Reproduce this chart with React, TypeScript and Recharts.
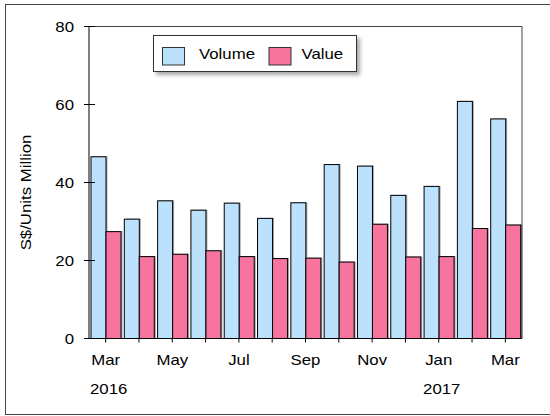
import React from 'react';
import { BarChart, Bar, XAxis, YAxis, CartesianGrid, Legend } from 'recharts';

const months = ['Mar', 'Apr', 'May', 'Jun', 'Jul', 'Aug', 'Sep', 'Oct', 'Nov', 'Dec', 'Jan', 'Feb', 'Mar'];
const years = ['2016', '', '', '', '', '', '', '', '', '', '2017', '', ''];
const volume = [46.6, 30.6, 35.3, 32.9, 34.7, 30.8, 34.8, 44.6, 44.2, 36.7, 39.0, 60.8, 56.3];
const value = [27.4, 21.0, 21.6, 22.5, 21.0, 20.5, 20.6, 19.6, 29.3, 20.9, 21.0, 28.2, 29.1];
const seriesNames = ['Volume', 'Value'];
const yTicks = [0, 20, 40, 60, 80];
const yLabel = 'S$/Units Million';

const data = months.map((m, i) => ({ key: i, month: m, year: years[i], Volume: volume[i], Value: value[i] }));

const FONT = '"Liberation Sans", Arial, Helvetica, sans-serif';
const SX = 1.2;
const BLUE = '#BCE1FC';
const PINK = '#F6749E';

function StretchText({ x, y, anchor, rotate, children }: any) {
  return (
    <g transform={`translate(${x},${y})${rotate ? ` rotate(${rotate})` : ''} scale(${SX},1)`}>
      <text x={0} y={0} textAnchor={anchor} fontFamily={FONT} fontSize={14} fill="#000">
        {children}
      </text>
    </g>
  );
}

const Y_TICK_SIZE = 5;
const Y_TICK_MARGIN = 10;

function YTick(props: any) {
  const { x, y, payload } = props;
  const axisX = x + Y_TICK_SIZE + Y_TICK_MARGIN;
  return (
    <g>
      <line x1={axisX - 5} x2={axisX + 6} y1={y} y2={y} stroke="#000" strokeWidth={1} />
      <StretchText x={x} y={y + 5} anchor="end">{payload.value}</StretchText>
    </g>
  );
}

function XTick(props: any) {
  const { x, y, payload } = props;
  const i = payload.value as number;
  if (i % 2 !== 0) return <g />;
  return (
    <g>
      <StretchText x={x} y={y + 20.5} anchor="middle">{months[i]}</StretchText>
      {years[i] ? (
        <StretchText x={x + 3} y={y + 49} anchor="middle">{years[i]}</StretchText>
      ) : null}
    </g>
  );
}

function ShadowBar(props: any) {
  const { x, y, width, height, fill } = props;
  if (!height || height <= 0) return <g />;
  return (
    <g>
      <rect x={x + 1.5} y={y - 0.5} width={width} height={height + 0.5} fill="rgba(0,0,0,0.35)" />
      <rect x={x} y={y} width={width} height={height} fill={fill} stroke="#000" strokeWidth={1} />
    </g>
  );
}

function LegendContent(props: any) {
  const raw = props.payload || [];
  const payload = seriesNames
    .map((n) => raw.find((p: any) => p.value === n || p.dataKey === n))
    .filter(Boolean);
  const swatchX = [9.5, 116];
  const textX = [46, 148.5];
  return (
    <div
      style={{
        width: 204,
        height: 37,
        boxSizing: 'border-box',
        border: '1px solid #333',
        background: '#fff',
        boxShadow: '3px 3px 4px rgba(0,0,0,0.35)',
      }}
    >
      <svg width={202} height={35} style={{ display: 'block' }}>
        {payload.map((p: any, i: number) => (
          <g key={i}>
            <rect x={swatchX[i] - 1} y={11.5} width={22} height={17.5} fill={p.color} stroke="#333" strokeWidth={1} />
            <StretchText x={textX[i] - 1} y={23.3} anchor="start">{p.value}</StretchText>
          </g>
        ))}
      </svg>
    </div>
  );
}

function YAxisLabel(props: any) {
  const vb = props.viewBox || { x: 0, y: 0, width: 0, height: 0 };
  return (
    <StretchText x={vb.x + 31} y={vb.y + vb.height / 2 + 10} anchor="middle" rotate={-90}>
      {yLabel}
    </StretchText>
  );
}

export default function App() {
  return (
    <div style={{ position: 'absolute', left: 0, top: 0, width: 550, height: 416, overflow: 'hidden', background: '#fff' }}>
      <div
        style={{
          position: 'absolute',
          left: 5,
          top: 4,
          width: 600,
          height: 411,
          boxSizing: 'border-box',
          border: '1px solid #444',
        }}
      />
      <div style={{ position: 'absolute', left: 0, top: 0 }}>
        <BarChart
          width={550}
          height={416}
          data={data}
          margin={{ top: 26.5, right: 28, left: 0, bottom: 0 }}
          barCategoryGap={2}
          barGap={0}
        >
          <CartesianGrid
            horizontal
            vertical
            stroke="#444"
            horizontalCoordinatesGenerator={({ offset }: any) => [offset.top]}
            verticalCoordinatesGenerator={({ offset }: any) => [offset.left + offset.width]}
          />
          <XAxis
            dataKey="key"
            type="category"
            interval={0}
            height={77.5}
            tickSize={4}
            tickMargin={2}
            axisLine={{ stroke: '#000' }}
            tickLine={{ stroke: '#000' }}
            tick={<XTick />}
          />
          <YAxis
            width={89}
            domain={[0, 80]}
            ticks={yTicks}
            interval={0}
            tickSize={Y_TICK_SIZE}
            tickMargin={Y_TICK_MARGIN}
            tickLine={false}
            axisLine={{ stroke: '#000' }}
            tick={<YTick />}
            label={{ content: <YAxisLabel /> }}
          />
          <Legend
            layout="horizontal"
            verticalAlign="middle"
            align="center"
            wrapperStyle={{ left: 153, top: 35, width: 210, height: 42 }}
            content={<LegendContent />}
          />
          <Bar dataKey={seriesNames[0]} fill={BLUE} isAnimationActive={false} shape={<ShadowBar />} />
          <Bar dataKey={seriesNames[1]} fill={PINK} isAnimationActive={false} shape={<ShadowBar />} />
        </BarChart>
      </div>
    </div>
  );
}
